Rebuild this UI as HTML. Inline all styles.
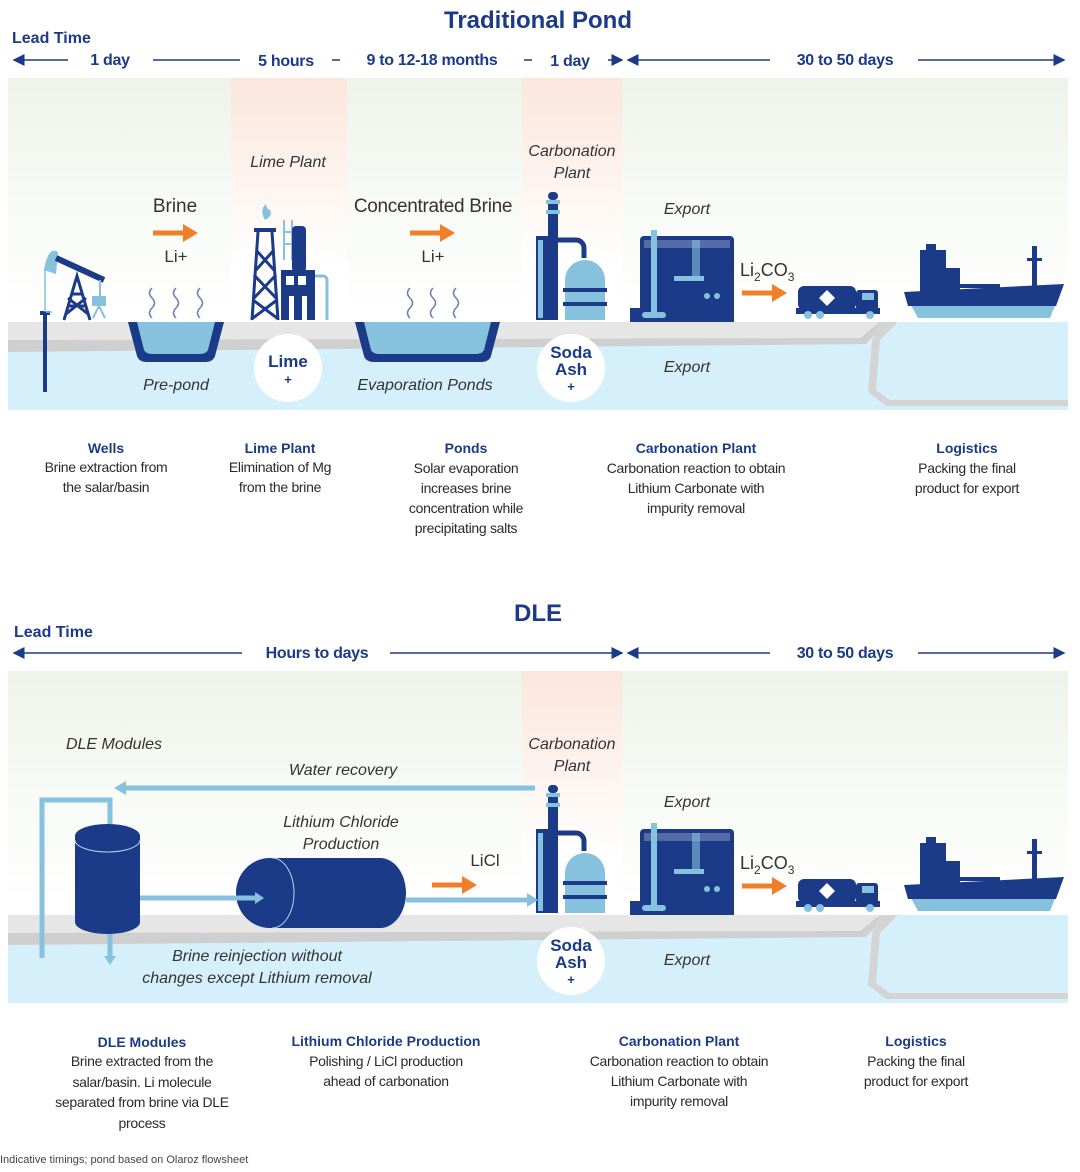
<!DOCTYPE html>
<html><head><meta charset="utf-8"><style>
html,body{margin:0;padding:0;background:#fff;}
svg{display:block;}
text{font-family:"Liberation Sans Narrow","Liberation Sans",sans-serif;}
.h{fill:#1b3a87;font-weight:bold;}
.b{fill:#2a2a2a;font-size:14px;letter-spacing:-0.3px;}
.it{font-style:italic;fill:#333;font-size:16px;}
.tl{fill:#1b3a87;font-weight:bold;font-size:16px;letter-spacing:-0.3px;}
</style></head><body>
<svg width="1080" height="1172" viewBox="0 0 1080 1172" xmlns="http://www.w3.org/2000/svg">
<defs>
<linearGradient id="gbg" x1="0" y1="0" x2="0" y2="1"><stop offset="0" stop-color="#eef4ea"/><stop offset="0.7" stop-color="#ffffff"/></linearGradient>
<linearGradient id="gpk" x1="0" y1="0" x2="0" y2="1"><stop offset="0" stop-color="#fbe6dc"/><stop offset="0.75" stop-color="#ffffff"/></linearGradient>
<marker id="al" markerWidth="8" markerHeight="8" refX="1" refY="4" orient="auto"><path d="M8,0 L0,4 L8,8 z" fill="#1b3a87"/></marker>
<marker id="ar" markerWidth="8" markerHeight="8" refX="7" refY="4" orient="auto"><path d="M0,0 L8,4 L0,8 z" fill="#1b3a87"/></marker>
<g id="orange"><rect x="0" y="-2.5" width="32" height="5" fill="#f07f2a"/><path d="M30,-9 L45,0 L30,9 z" fill="#f07f2a"/></g>
<g id="carbplant">
 <rect x="548" y="192" width="10" height="8" rx="4" fill="#1b3a87"/>
 <rect x="546" y="200" width="14" height="4" fill="#86c1de"/>
 <rect x="548" y="204" width="10" height="6" fill="#1b3a87"/>
 <rect x="546" y="210" width="14" height="4" fill="#86c1de"/>
 <rect x="548" y="214" width="10" height="22" fill="#1b3a87"/>
 <rect x="536" y="236" width="22" height="84" fill="#1b3a87"/>
 <rect x="538" y="240" width="5" height="78" fill="#86c1de"/>
 <path d="M556,240 h20 a8,8 0 0 1 8,8 v10" stroke="#1b3a87" stroke-width="5" fill="none"/>
 <path d="M565,320 v-40 a20,20 0 0 1 40,0 v40 z" fill="#86c1de"/>
 <rect x="563" y="288" width="44" height="4" fill="#1b3a87"/>
 <rect x="563" y="302" width="44" height="4" fill="#1b3a87"/>
 <rect x="640" y="236" width="94" height="84" rx="4" fill="#1b3a87"/>
 <rect x="644" y="240" width="86" height="8" fill="#fff" opacity="0.25"/>
 <rect x="630" y="308" width="104" height="14" fill="#1b3a87"/>
 <rect x="651" y="230" width="6" height="84" fill="#86c1de"/>
 <rect x="642" y="312" width="24" height="6" rx="3" fill="#86c1de"/>
 <rect x="674" y="276" width="30" height="5" fill="#86c1de"/>
 <rect x="692" y="240" width="8" height="40" fill="#86c1de" opacity="0.6"/>
 <circle cx="707" cy="296" r="3" fill="#86c1de"/><circle cx="717" cy="296" r="3" fill="#86c1de"/>
 <rect x="798" y="286" width="58" height="24" rx="6" fill="#1b3a87"/>
 <rect x="856" y="290" width="22" height="20" rx="3" fill="#1b3a87"/>
 <rect x="862" y="293" width="12" height="7" fill="#86c1de"/>
 <path d="M827,290 l8,8 l-8,8 l-8,-8 z" fill="#fff"/>
 <rect x="796" y="308" width="84" height="6" fill="#1b3a87"/>
 <circle cx="808" cy="315" r="4" fill="#86c1de"/><circle cx="820" cy="315" r="4" fill="#86c1de"/><circle cx="870" cy="315" r="4" fill="#86c1de"/>
 <path d="M906,296 L1062,288 L1050,318 L918,318 z" fill="#86c1de"/>
 <path d="M904,292 L1064,284 L1056,306 L908,306 z" fill="#1b3a87"/>
 <rect x="920" y="250" width="26" height="44" fill="#1b3a87"/>
 <rect x="926" y="244" width="10" height="8" fill="#1b3a87"/>
 <rect x="946" y="268" width="14" height="24" fill="#1b3a87"/>
 <rect x="960" y="284" width="40" height="4" fill="#1b3a87"/>
 <rect x="1032" y="246" width="5" height="44" fill="#1b3a87"/>
 <rect x="1027" y="258" width="15" height="3" fill="#1b3a87"/>
</g>
<g id="ground">
 <rect x="8" y="322" width="872" height="22" fill="#e6e6e6"/>
 <path d="M8,340 L860,340 L880,322 L1068,322 L1068,410 L8,410 z" fill="#d6f0fb"/>
 <path d="M8,340 L860,338 L880,322 L886,322 L866,344 L8,352 z" fill="#cfcfcf"/>
 <path d="M880,322 L898,322 L880,340 L876,390 L890,400 L1068,400 L1068,406 L886,406 L868,392 L872,340 z" fill="#d4d4d4"/>
</g>
</defs>

<text x="538" y="28" text-anchor="middle" class="h" font-size="24">Traditional Pond</text>
<text x="12" y="43" class="h" font-size="16">Lead Time</text>
<g stroke="#1b3a87" stroke-width="1.5">
<line x1="14" y1="60" x2="68" y2="60" marker-start="url(#al)"/>
<line x1="153" y1="60" x2="240" y2="60"/>
<line x1="332" y1="60" x2="340" y2="60"/>
<line x1="524" y1="60" x2="532" y2="60"/>
<line x1="608" y1="60" x2="622" y2="60" marker-end="url(#ar)"/>
<line x1="628" y1="60" x2="770" y2="60" marker-start="url(#al)"/>
<line x1="918" y1="60" x2="1064" y2="60" marker-end="url(#ar)"/>
</g>
<text x="110" y="65" text-anchor="middle" class="tl">1 day</text>
<text x="286" y="66" text-anchor="middle" class="tl">5 hours</text>
<text x="432" y="65" text-anchor="middle" class="tl">9 to 12-18 months</text>
<text x="570" y="66" text-anchor="middle" class="tl">1 day</text>
<text x="845" y="65" text-anchor="middle" class="tl">30 to 50 days</text>

<rect x="8" y="78" width="1060" height="332" fill="url(#gbg)"/>
<rect x="231" y="78" width="116" height="250" fill="url(#gpk)"/>
<rect x="522" y="78" width="100" height="250" fill="url(#gpk)"/>
<use href="#ground"/>

<rect x="43" y="312" width="4" height="80" fill="#1b3a87"/>
<rect x="40" y="311" width="10" height="4" fill="#1b3a87"/>
<path d="M45,312 V268 M46,312 h6" stroke="#86c1de" stroke-width="1.5" fill="none"/>
<path d="M44,270 q4,-24 14,-18 l-2,22 z" fill="#86c1de"/>
<path d="M56,258 L104,280" stroke="#1b3a87" stroke-width="6"/>
<path d="M64,320 L77,276 L90,320 M68,306 h18 M71,294 h12 M66,314 L86,298 M88,314 L68,298" stroke="#1b3a87" stroke-width="3" fill="none"/>
<rect x="92" y="296" width="14" height="10" fill="#86c1de"/>
<path d="M93,318 L99,306 L105,318 M100,280 V296" stroke="#86c1de" stroke-width="2" fill="none"/>
<path d="M128,322 L224,322 L215,356 Q213,362 205,362 L147,362 Q139,362 137,356 z" fill="#1b3a87"/>
<path d="M137,322 L215,322 L208,350 Q206,354 200,354 L152,354 Q146,354 144,350 z" fill="#86c1de"/>
<g stroke="#6b7fb5" stroke-width="1.5" fill="none">
<path d="M152,288 q-5,5 0,10 q5,5 0,10 q-5,5 0,10"/><path d="M176,288 q-5,5 0,10 q5,5 0,10 q-5,5 0,10"/><path d="M200,288 q-5,5 0,10 q5,5 0,10 q-5,5 0,10"/>
<path d="M410,288 q-5,5 0,10 q5,5 0,10 q-5,5 0,10"/><path d="M433,288 q-5,5 0,10 q5,5 0,10 q-5,5 0,10"/><path d="M456,288 q-5,5 0,10 q5,5 0,10 q-5,5 0,10"/>
</g>
<path d="M265,220 q-6,-10 1,-16 q1,6 4,6 q3,6 -5,10 z" fill="#86c1de"/>
<rect x="254" y="228" width="22" height="4" fill="#1b3a87"/>
<path d="M258,232 L252,320 M272,232 L278,320 M256,250 L274,270 M274,250 L256,270 M254,275 L276,298 M276,275 L254,298 M253,300 L277,318 M277,300 L253,318" stroke="#1b3a87" stroke-width="3" fill="none"/>
<path d="M284,260 v-40 M292,260 v-40 M284,232 h8 M284,244 h8" stroke="#86c1de" stroke-width="2"/>
<rect x="292" y="226" width="14" height="46" rx="4" fill="#1b3a87"/>
<rect x="281" y="270" width="34" height="50" fill="#1b3a87"/>
<rect x="286" y="276" width="8" height="9" fill="#fff"/><rect x="298" y="276" width="8" height="9" fill="#fff"/>
<rect x="289" y="296" width="5" height="24" fill="#fff"/><rect x="302" y="296" width="5" height="24" fill="#fff"/>
<path d="M315,276 h8 a4,4 0 0 1 4,4 v40" stroke="#86c1de" stroke-width="3" fill="none"/>
<path d="M355,322 L500,322 L491,356 Q489,362 481,362 L374,362 Q366,362 364,356 z" fill="#1b3a87"/>
<path d="M364,322 L491,322 L484,350 Q482,354 476,354 L379,354 Q373,354 371,350 z" fill="#86c1de"/>
<use href="#carbplant"/>
<circle cx="288" cy="368" r="34" fill="#fff"/>
<circle cx="571" cy="368" r="34" fill="#fff"/>
<text x="288" y="367" text-anchor="middle" class="h" font-size="17">Lime</text>
<text x="288" y="384" text-anchor="middle" class="h" font-size="13">+</text>
<text x="571" y="358" text-anchor="middle" class="h" font-size="17">Soda</text>
<text x="571" y="375" text-anchor="middle" class="h" font-size="17">Ash</text>
<text x="571" y="391" text-anchor="middle" class="h" font-size="13">+</text>

<text x="175" y="212" text-anchor="middle" fill="#333" font-size="19">Brine</text>
<use href="#orange" x="153" y="233"/>
<text x="176" y="262" text-anchor="middle" fill="#333" font-size="17">Li+</text>
<text x="433" y="212" text-anchor="middle" fill="#333" font-size="19" letter-spacing="-0.3">Concentrated Brine</text>
<use href="#orange" x="410" y="233"/>
<text x="433" y="262" text-anchor="middle" fill="#333" font-size="17">Li+</text>
<text x="288" y="167" text-anchor="middle" class="it">Lime Plant</text>
<text x="572" y="156" text-anchor="middle" class="it">Carbonation</text>
<text x="572" y="178" text-anchor="middle" class="it">Plant</text>
<text x="687" y="214" text-anchor="middle" class="it">Export</text>
<text x="740" y="276" fill="#333" font-size="18">Li<tspan font-size="12" dy="5">2</tspan><tspan dy="-5">CO</tspan><tspan font-size="12" dy="5">3</tspan></text>
<use href="#orange" x="742" y="293"/>
<text x="176" y="390" text-anchor="middle" class="it">Pre-pond</text>
<text x="425" y="390" text-anchor="middle" class="it">Evaporation  Ponds</text>
<text x="687" y="372" text-anchor="middle" class="it">Export</text>

<g text-anchor="middle">
<text x="106" y="453" class="h" font-size="14">Wells</text>
<text x="106" y="472" class="b">Brine extraction from</text>
<text x="106" y="492" class="b">the salar/basin</text>
<text x="280" y="453" class="h" font-size="14">Lime Plant</text>
<text x="280" y="472" class="b">Elimination of Mg</text>
<text x="280" y="492" class="b">from the brine</text>
<text x="466" y="453" class="h" font-size="14">Ponds</text>
<text x="466" y="473" class="b">Solar evaporation</text>
<text x="466" y="493" class="b">increases brine</text>
<text x="466" y="513" class="b">concentration while</text>
<text x="466" y="533" class="b">precipitating salts</text>
<text x="696" y="453" class="h" font-size="14">Carbonation Plant</text>
<text x="696" y="473" class="b">Carbonation reaction to obtain</text>
<text x="696" y="493" class="b">Lithium Carbonate with</text>
<text x="696" y="513" class="b">impurity removal</text>
<text x="967" y="453" class="h" font-size="14">Logistics</text>
<text x="967" y="473" class="b">Packing the final</text>
<text x="967" y="493" class="b">product for export</text>
</g>

<text x="538" y="621" text-anchor="middle" class="h" font-size="24">DLE</text>
<text x="14" y="637" class="h" font-size="16">Lead Time</text>
<g stroke="#1b3a87" stroke-width="1.5">
<line x1="14" y1="653" x2="242" y2="653" marker-start="url(#al)"/>
<line x1="390" y1="653" x2="622" y2="653" marker-end="url(#ar)"/>
<line x1="628" y1="653" x2="770" y2="653" marker-start="url(#al)"/>
<line x1="918" y1="653" x2="1064" y2="653" marker-end="url(#ar)"/>
</g>
<text x="317" y="658" text-anchor="middle" class="tl">Hours to days</text>
<text x="845" y="658" text-anchor="middle" class="tl">30 to 50 days</text>

<rect x="8" y="671" width="1060" height="328" fill="url(#gbg)"/>
<rect x="522" y="671" width="100" height="250" fill="url(#gpk)"/>
<use href="#ground" y="593"/>
<use href="#carbplant" y="593"/>
<circle cx="571" cy="961" r="34" fill="#fff"/>
<text x="571" y="951" text-anchor="middle" class="h" font-size="17">Soda</text>
<text x="571" y="968" text-anchor="middle" class="h" font-size="17">Ash</text>
<text x="571" y="984" text-anchor="middle" class="h" font-size="13">+</text>

<g stroke="#86c1de" stroke-width="5" fill="none">
<line x1="535" y1="788" x2="124" y2="788"/>
<path d="M42,958 V800 H110 V828"/>
<line x1="406" y1="900" x2="528" y2="900"/>
<line x1="110" y1="928" x2="110" y2="958"/>
</g>
<path d="M126,781 L114,788 L126,795 z" fill="#86c1de"/>
<path d="M104,828 L110,836 L116,828 z" fill="#86c1de"/>
<path d="M104,956 L110,965 L116,956 z" fill="#86c1de"/>
<path d="M527,893 L538,900 L527,907 z" fill="#86c1de"/>
<rect x="75" y="836" width="65" height="86" fill="#1b3a87"/>
<ellipse cx="107.5" cy="836" rx="32.5" ry="12" fill="#1b3a87"/>
<ellipse cx="107.5" cy="922" rx="32.5" ry="12" fill="#1b3a87"/>
<path d="M75,840 a32.5,12 0 0 0 65,0" stroke="#b8d6ea" stroke-width="1" fill="none"/>
<rect x="270" y="858" width="112" height="70" fill="#1b3a87"/>
<path d="M380,858 a26,35 0 0 1 0,70 z" fill="#1b3a87"/>
<ellipse cx="270" cy="893" rx="34" ry="35" fill="#1b3a87"/>
<path d="M272,858 a22,35 0 0 1 0,70" stroke="#b8d6ea" stroke-width="1" fill="none"/>
<line x1="140" y1="898" x2="256" y2="898" stroke="#86c1de" stroke-width="5"/>
<path d="M255,892 L264,898 L255,904 z" fill="#86c1de"/>
<use href="#orange" x="432" y="885"/>

<text x="114" y="749" text-anchor="middle" class="it">DLE Modules</text>
<text x="343" y="775" text-anchor="middle" class="it">Water recovery</text>
<text x="341" y="827" text-anchor="middle" class="it">Lithium Chloride</text>
<text x="341" y="849" text-anchor="middle" class="it">Production</text>
<text x="485" y="866" text-anchor="middle" fill="#333" font-size="17">LiCl</text>
<text x="257" y="961" text-anchor="middle" class="it">Brine reinjection without</text>
<text x="257" y="983" text-anchor="middle" class="it">changes  except  Lithium removal</text>
<text x="572" y="749" text-anchor="middle" class="it">Carbonation</text>
<text x="572" y="771" text-anchor="middle" class="it">Plant</text>
<text x="687" y="807" text-anchor="middle" class="it">Export</text>
<text x="740" y="869" fill="#333" font-size="18">Li<tspan font-size="12" dy="5">2</tspan><tspan dy="-5">CO</tspan><tspan font-size="12" dy="5">3</tspan></text>
<use href="#orange" x="742" y="886"/>
<text x="687" y="965" text-anchor="middle" class="it">Export</text>

<g text-anchor="middle">
<text x="142" y="1047" class="h" font-size="14">DLE Modules</text>
<text x="142" y="1066" class="b">Brine extracted from the</text>
<text x="142" y="1087" class="b">salar/basin.  Li molecule</text>
<text x="142" y="1107" class="b">separated from brine via DLE</text>
<text x="142" y="1128" class="b">process</text>
<text x="386" y="1046" class="h" font-size="14">Lithium Chloride Production</text>
<text x="386" y="1066" class="b">Polishing / LiCl production</text>
<text x="386" y="1086" class="b">ahead of carbonation</text>
<text x="679" y="1046" class="h" font-size="14">Carbonation Plant</text>
<text x="679" y="1066" class="b">Carbonation reaction to obtain</text>
<text x="679" y="1086" class="b">Lithium Carbonate with</text>
<text x="679" y="1106" class="b">impurity removal</text>
<text x="916" y="1046" class="h" font-size="14">Logistics</text>
<text x="916" y="1066" class="b">Packing the final</text>
<text x="916" y="1086" class="b">product for export</text>
</g>
<text x="0" y="1163" fill="#444" font-size="11">Indicative timings; pond based on Olaroz flowsheet</text>
</svg>
</body></html>
